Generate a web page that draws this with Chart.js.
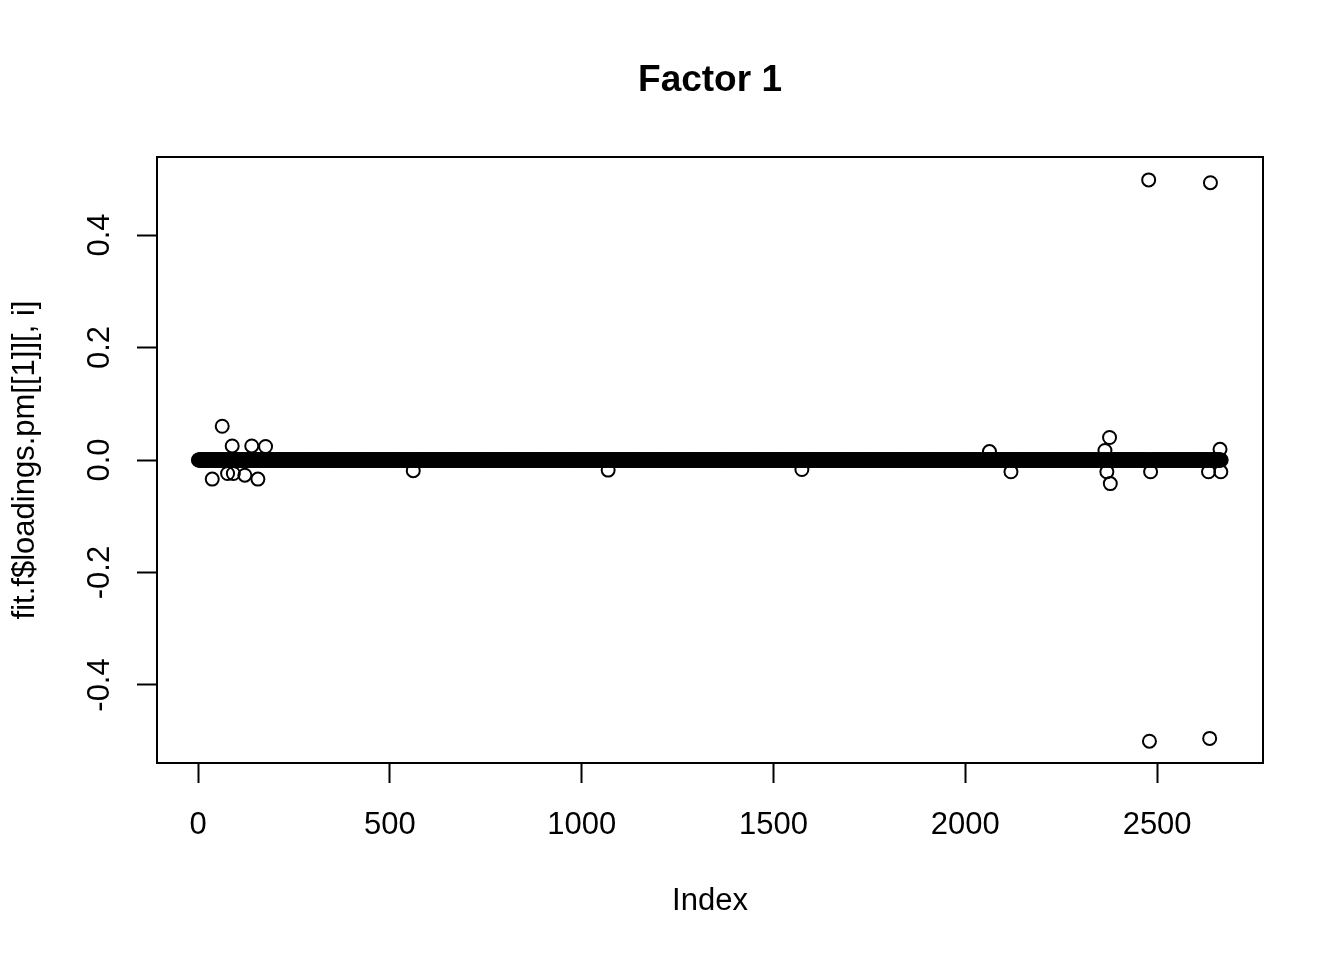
<!DOCTYPE html>
<html>
<head>
<meta charset="utf-8">
<script src="https://cdn.jsdelivr.net/npm/chart.js@4"></script>
<style>
html,body{margin:0;padding:0;background:#fff;}
canvas{display:block;}
</style>
</head>
<body>
<canvas id="c" width="1344" height="960"></canvas>
<script>
// ---- data ----
const nPoints = 2667; // indices 1..nPoints, all loadings at 0.0 except the outliers below
const outlierIndex = [37, 63, 77, 89, 92, 122, 140, 156, 176, 561, 1069, 1574, 2063, 2119, 2364, 2369, 2376, 2378, 2478, 2480, 2483, 2634, 2637, 2639, 2664, 2666];
const outlierValue = [-0.034, 0.060, -0.024, 0.025, -0.024, -0.027, 0.025, -0.034, 0.024, -0.019, -0.018, -0.017, 0.015, -0.021, 0.017, -0.021, 0.040, -0.042, 0.498, -0.500, -0.021, -0.021, -0.495, 0.493, 0.019, -0.021];
const xTicks = [0, 500, 1000, 1500, 2000, 2500];
const xTickLabels = ["0", "500", "1000", "1500", "2000", "2500"];
const yTicks = [-0.4, -0.2, 0.0, 0.2, 0.4];
const yTickLabels = ["-0.4", "-0.2", "0.0", "0.2", "0.4"];
const titleText = "Factor 1";
const xLabel = "Index";
const yLabel = "fit.f$loadings.pm[[1]][, i]";

const valueAt = {};
outlierIndex.forEach((ix, k) => { valueAt[ix] = outlierValue[k]; });
const points = [];
for (let i = 1; i <= nPoints; i++) {
  points.push({x: i, y: (valueAt[i] !== undefined) ? valueAt[i] : 0});
}

const FONT = "'Liberation Sans', Arial, Helvetica, sans-serif";

const rDecor = {
  id: 'rDecor',
  afterDraw(chart) {
    const ctx = chart.ctx;
    const a = chart.chartArea;
    const ys = chart.scales.y;
    ctx.save();
    ctx.strokeStyle = '#000';
    ctx.lineWidth = 2;
    ctx.strokeRect(a.left, a.top, a.right - a.left, a.bottom - a.top);
    ctx.fillStyle = '#000';
    ctx.textAlign = 'center';
    ctx.textBaseline = 'middle';
    const cx = (a.left + a.right) / 2;
    ctx.font = 'bold 37px ' + FONT;
    ctx.fillText(titleText, cx, 81);
    ctx.font = '31px ' + FONT;
    ctx.fillText(xLabel, cx, 901);
    ctx.save();
    ctx.translate(25, (a.top + a.bottom) / 2);
    ctx.rotate(-Math.PI / 2);
    ctx.fillText(yLabel, 0, 0);
    ctx.restore();
    yTicks.forEach((v, k) => {
      const py = ys.getPixelForValue(v);
      ctx.save();
      ctx.translate(100, py);
      ctx.rotate(-Math.PI / 2);
      ctx.fillText(yTickLabels[k], 0, 0);
      ctx.restore();
    });
    ctx.restore();
  }
};

new Chart(document.getElementById('c'), {
  type: 'scatter',
  data: {
    datasets: [{
      data: points,
      pointStyle: 'circle',
      pointRadius: 6.5,
      pointHoverRadius: 6.5,
      pointBorderWidth: 2,
      pointBorderColor: '#000',
      pointBackgroundColor: 'rgba(0,0,0,0)',
      showLine: false
    }]
  },
  options: {
    responsive: false,
    animation: false,
    devicePixelRatio: 1,
    layout: {padding: {left: 0, right: 81, top: 157, bottom: 0}},
    plugins: {legend: {display: false}, title: {display: false}, tooltip: {enabled: false}},
    events: [],
    scales: {
      x: {
        type: 'linear',
        min: -107,
        max: 2776,
        afterBuildTicks: (s) => { s.ticks = xTicks.map(v => ({value: v})); },
        afterFit: (s) => { s.height = 197; },
        grid: {drawOnChartArea: false, drawTicks: true, tickLength: 20, tickWidth: 2, tickColor: '#000'},
        border: {display: false},
        ticks: {
          autoSkip: false,
          maxRotation: 0,
          minRotation: 0,
          padding: 24,
          color: '#000',
          font: {family: FONT, size: 31},
          callback: (v, i) => xTickLabels[i]
        }
      },
      y: {
        type: 'linear',
        min: -0.5387,
        max: 0.5387,
        afterBuildTicks: (s) => { s.ticks = yTicks.map(v => ({value: v})); },
        afterFit: (s) => { s.width = 157; },
        grid: {drawOnChartArea: false, drawTicks: true, tickLength: 20, tickWidth: 2, tickColor: '#000'},
        border: {display: false},
        ticks: {display: false}
      }
    }
  },
  plugins: [rDecor]
});
</script>
</body>
</html>
